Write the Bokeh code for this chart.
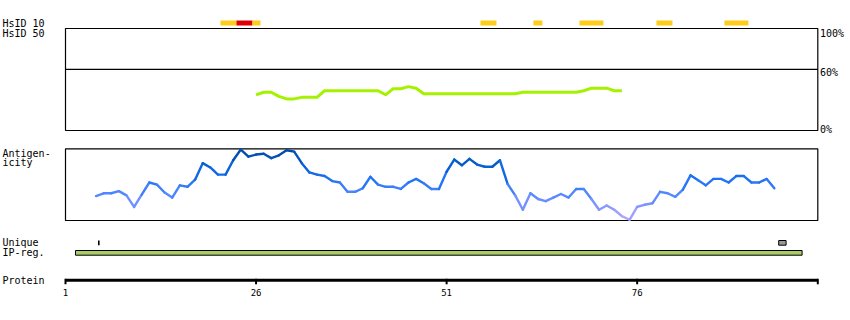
from bokeh.plotting import figure
from bokeh.models import Range1d, ColumnDataSource
from bokeh.core.properties import value
from bokeh.embed import file_html
from bokeh.resources import INLINE

# ---------------- data ----------------
AXIS_START = 1
AXIS_END = 99.7
tick_residues = [1, 26, 51, 76]
tick_labels = ["1", "26", "51", "76"]

# HsID 10 matches (residue start, end, level)
hsid10_start = [21.33, 23.43, 25.53, 55.44, 62.39, 68.43, 78.53, 87.45]
hsid10_end = [23.43, 25.53, 26.58, 57.54, 63.57, 71.58, 80.63, 90.6]
hsid10_level = ["mid", "high", "mid", "mid", "mid", "mid", "mid", "mid"]

# HsID 50 identity (%) per residue
ident_first = 26
ident_pct = [35, 37.5, 37.5, 33.5, 31, 31, 32.5, 32.5, 32.5, 39, 39, 39, 39, 39, 39, 39, 39,
             35, 41, 41, 43, 41.5, 36,
             36, 36, 36, 36, 36, 36, 36, 36, 36, 36, 36, 36,
             37.5, 37.5, 37.5, 37.5, 37.5, 37.5, 37.5, 37.5,
             39, 41.5, 41.5, 41.5, 39, 39]
ident_threshold = 60

# Antigenicity per residue (relative, 0-100)
anti_first = 5
anti_vals = [34, 38, 38, 41, 35, 19, 36, 53, 50, 39,
             32, 49, 47, 57, 80, 74, 64, 64, 84, 99,
             89, 92, 93, 87, 91, 98, 96, 80, 67, 64,
             62, 55, 53, 40, 40, 45, 61, 50, 47, 47,
             44, 53, 58, 52, 44, 44, 68, 85, 77, 86,
             78, 75, 75, 84, 51, 35, 15, 38, 30, 27,
             32, 37, 32, 44, 44, 30, 15, 21, 15, 6,
             1, 19, 22, 24, 40, 38, 33, 43, 63, 56,
             49, 58, 58, 53, 62, 62, 53, 53, 58, 45]

# Unique regions and IP region (residue start, end)
unique_tick = [5.37]
unique_box_start = [94.57]
unique_box_end = [95.54]
ipreg_start = [2.31]
ipreg_end = [97.64]

# ---------------- layout ----------------
W, H = 850, 320
FRAME_L, FRAME_R = 65.0, 817.3          # pixel columns of residue AXIS_START / AXIS_END
ppr = (FRAME_R - FRAME_L) / (AXIS_END - AXIS_START)
res_range = Range1d(AXIS_START - FRAME_L / ppr, AXIS_START + (W - FRAME_L) / ppr)

# identity panel: 0% -> row 130, 100% -> row 28
ID_ROW0, ID_ROW100 = 130.0, 28.0
id_ppu = (ID_ROW0 - ID_ROW100) / 100.0
ident_range = Range1d(-(H - ID_ROW0) / id_ppu, ID_ROW0 / id_ppu)
# antigenicity panel: 0 -> row 220, 100 -> row 148.3
AN_ROW0, AN_ROW100 = 220.0, 148.3
an_ppu = (AN_ROW0 - AN_ROW100) / 100.0
anti_range = Range1d(-(H - AN_ROW0) / an_ppu, AN_ROW0 / an_ppu)

p = figure(width=W, height=H, x_range=Range1d(0, W), y_range=Range1d(H, 0),
           output_backend="svg", toolbar_location=None, min_border=0,
           x_axis_location=None, y_axis_location=None, outline_line_color=None,
           background_fill_color="white", border_fill_color="white")
p.grid.visible = False
p.extra_x_ranges = {"res": res_range}
p.extra_y_ranges = {"ident": ident_range, "anti": anti_range}

FONT = value("DejaVu Sans Mono")

# HsID 10 bars
level_color = {"mid": "#ffcc1a", "high": "#e00000"}
p.quad(left=hsid10_start, right=hsid10_end, top=20, bottom=25,
       fill_color=[level_color[l] for l in hsid10_level], line_color=None,
       x_range_name="res")

# identity panel box + threshold
p.quad(left=[AXIS_START], right=[AXIS_END], bottom=[0], top=[100], fill_color=None,
       line_color="black", line_width=1.2, x_range_name="res", y_range_name="ident")
p.segment(x0=[AXIS_START], x1=[AXIS_END], y0=[ident_threshold], y1=[ident_threshold],
          line_color="black", line_width=1.2, x_range_name="res", y_range_name="ident")
ident_x = list(range(ident_first, ident_first + len(ident_pct)))
p.line(x=ident_x, y=ident_pct, line_color="#a4f200", line_width=3,
       x_range_name="res", y_range_name="ident")

# antigenicity panel
p.quad(left=[AXIS_START], right=[AXIS_END], bottom=[0], top=[100], fill_color=None,
       line_color="black", line_width=1.2, x_range_name="res", y_range_name="anti")

stops = [(0, (186, 170, 248)), (20, (132, 150, 255)), (40, (74, 132, 255)),
         (60, (24, 112, 240)), (80, (4, 92, 204)), (100, (0, 72, 160))]

def anti_color(v):
    for (a, ca), (b, cb) in zip(stops[:-1], stops[1:]):
        if v <= b:
            t = (v - a) / (b - a)
            c = [round(ca[i] + t * (cb[i] - ca[i])) for i in range(3)]
            return "#%02x%02x%02x" % tuple(c)
    return "#%02x%02x%02x" % stops[-1][1]

anti_x = list(range(anti_first, anti_first + len(anti_vals)))
seg = ColumnDataSource(dict(
    x0=anti_x[:-1], x1=anti_x[1:], y0=anti_vals[:-1], y1=anti_vals[1:],
    c=[anti_color((a + b) / 2) for a, b in zip(anti_vals[:-1], anti_vals[1:])]))
p.segment(x0="x0", x1="x1", y0="y0", y1="y1", line_color="c", line_width=2.4,
          line_cap="round", source=seg, x_range_name="res", y_range_name="anti")

# unique / IP-reg
p.segment(x0=unique_tick, x1=unique_tick, y0=240, y1=244.7, line_color="black",
          line_width=1.6, x_range_name="res")
p.quad(left=unique_box_start, right=unique_box_end, top=240, bottom=244.7,
       fill_color="#999999", line_color="black", line_width=1, x_range_name="res")
p.quad(left=ipreg_start, right=ipreg_end, top=250, bottom=254.7,
       fill_color="#a8cc66", line_color="black", line_width=1, x_range_name="res")

# protein axis
p.segment(x0=[AXIS_START], x1=[AXIS_END], y0=279.7, y1=279.7, line_color="black",
          line_width=3, x_range_name="res")
axis_ticks = tick_residues + [AXIS_END]
p.segment(x0=axis_ticks, x1=axis_ticks, y0=278.3, y1=283.8, line_color="black",
          line_width=2, x_range_name="res")
p.text(x=tick_residues, y=291.5, text=tick_labels, text_font=FONT,
       text_font_size=value("9px"), text_align="center", text_baseline="middle",
       text_color="black", x_range_name="res")

# left and right labels (pixel layout)
left_text = ["HsID 10", "HsID 50", "Antigen-", "icity", "Unique", "IP-reg.", "Protein"]
left_rows = [22.5, 32.5, 152.5, 162, 242, 252, 280]
p.text(x=2, y=left_rows, text=left_text, text_font=FONT, text_font_size=value("10px"),
       text_align="left", text_baseline="middle", text_color="black")
right_text = ["100%", "60%", "0%"]
right_rows = [33, 71.5, 129]
p.text(x=819.5, y=right_rows, text=right_text, text_font=FONT,
       text_font_size=value("10px"), text_align="left", text_baseline="middle",
       text_color="black")

open("out.html", "w").write(file_html(p, INLINE))
